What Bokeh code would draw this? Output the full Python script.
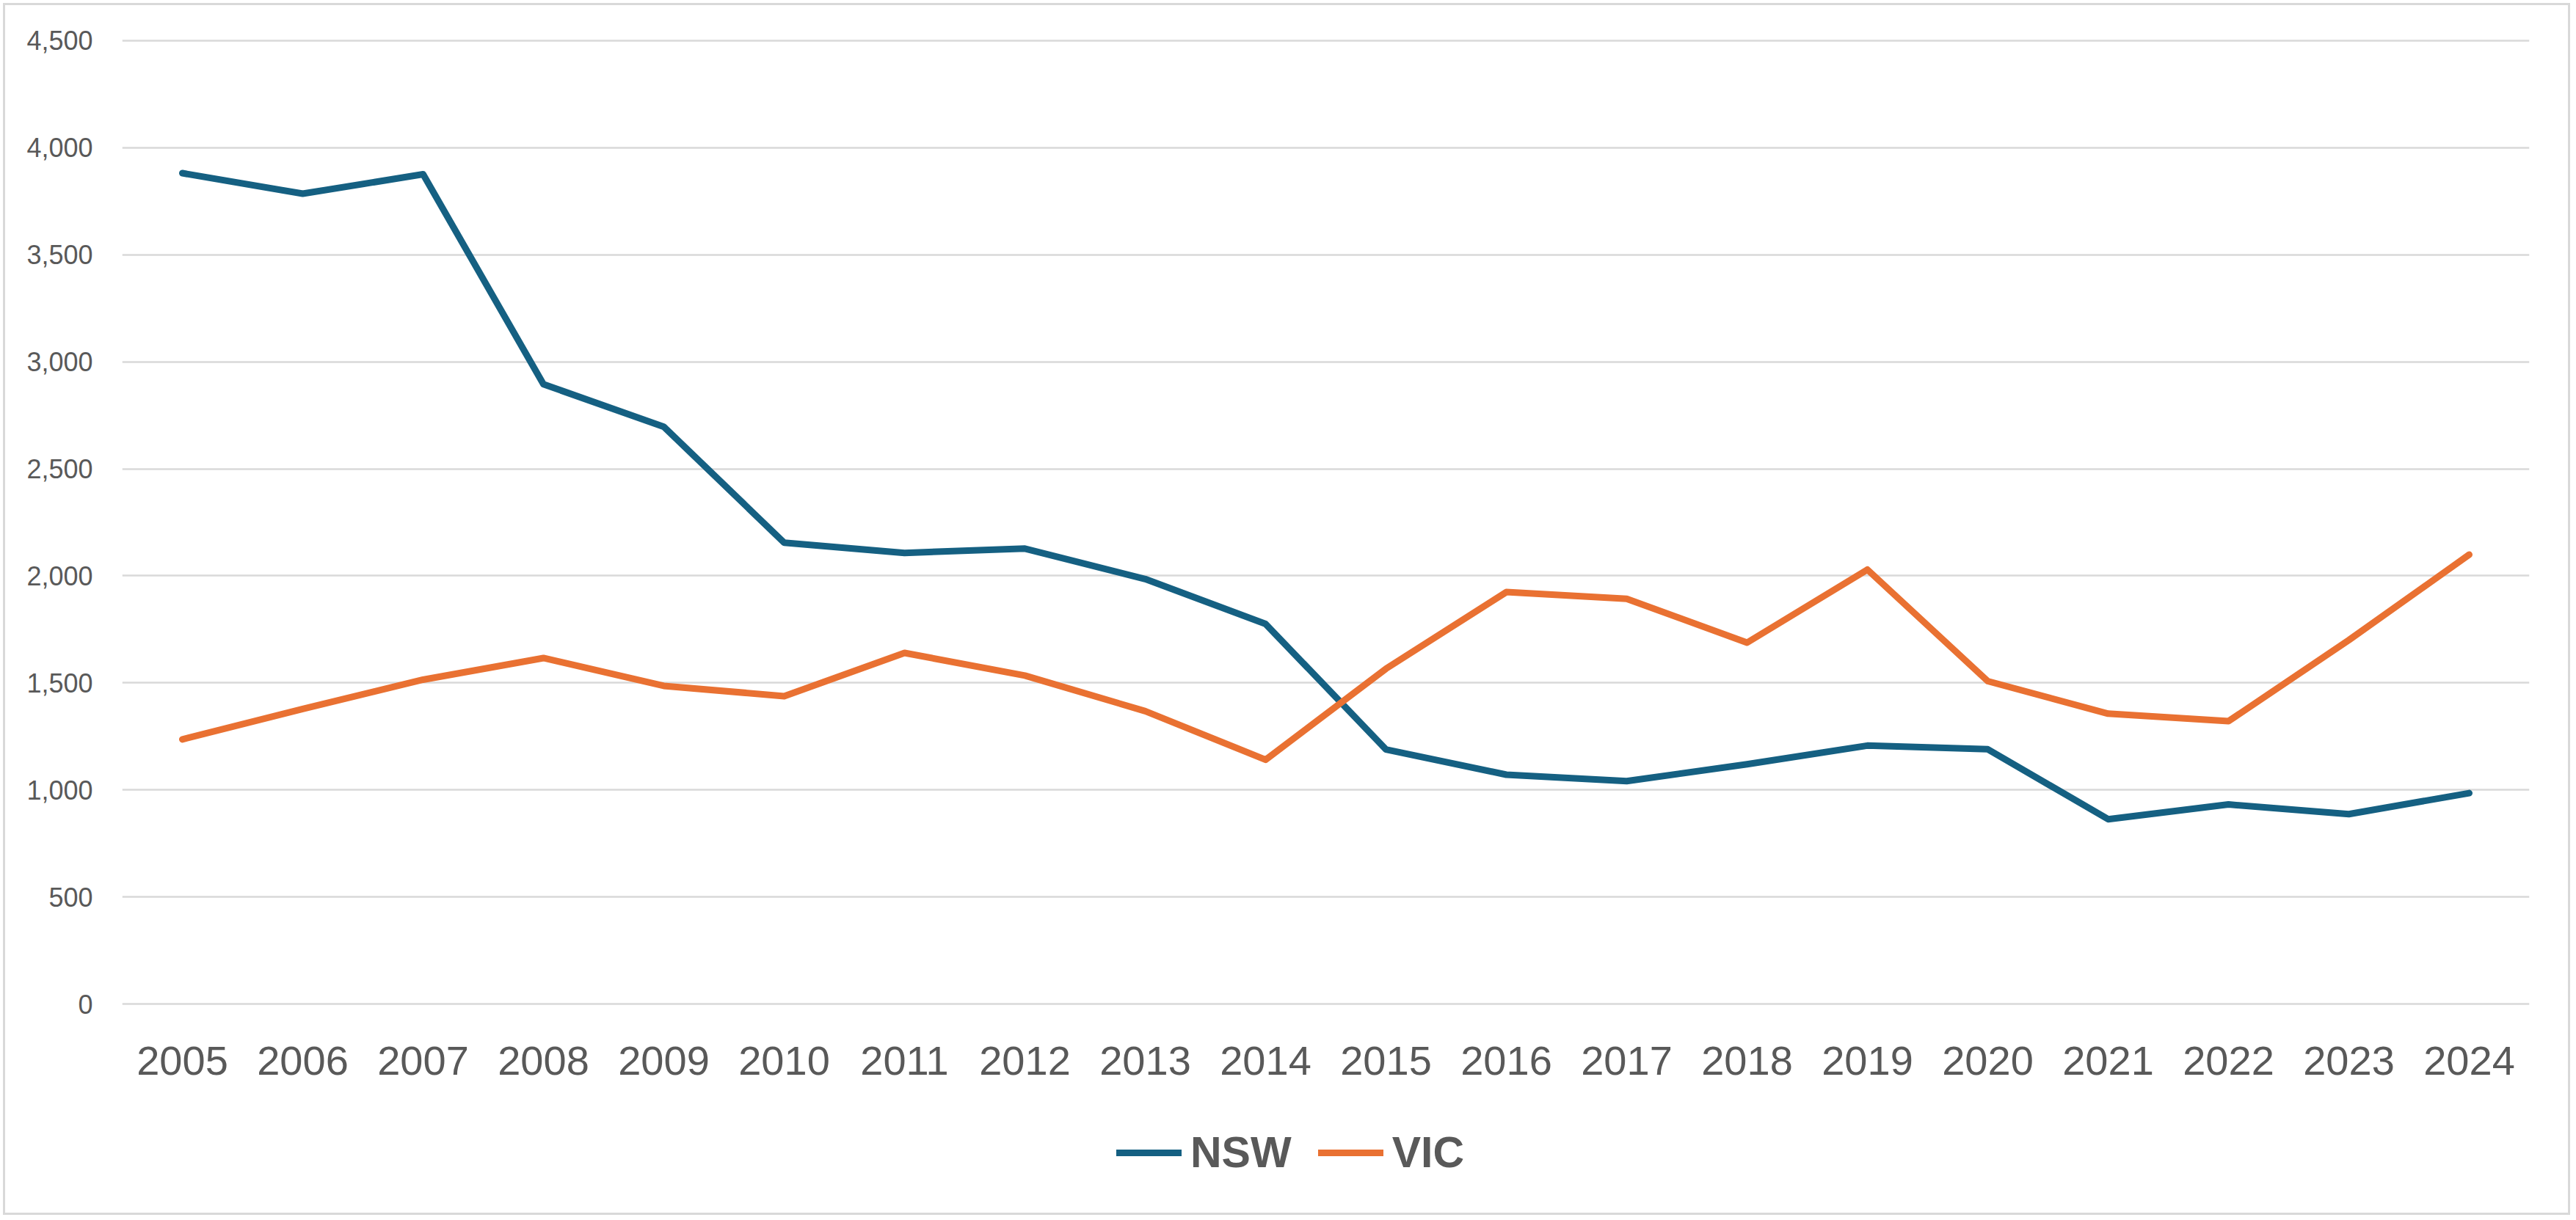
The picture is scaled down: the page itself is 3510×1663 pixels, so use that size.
from bokeh.plotting import figure
from bokeh.models import FactorRange, Range1d, FixedTicker, NumeralTickFormatter, Legend, LegendItem, ColumnDataSource
from bokeh.embed import file_html
from bokeh.resources import INLINE

years = ["2005", "2006", "2007", "2008", "2009", "2010", "2011", "2012", "2013", "2014",
         "2015", "2016", "2017", "2018", "2019", "2020", "2021", "2022", "2023", "2024"]
nsw = [3881, 3785, 3876, 2895, 2696, 2155, 2107, 2127, 1985, 1775,
       1189, 1071, 1041, 1120, 1207, 1190, 863, 932, 887, 985]
vic = [1236, 1378, 1515, 1616, 1486, 1438, 1640, 1534, 1368, 1141,
       1566, 1924, 1893, 1688, 2029, 1508, 1356, 1321, 1700, 2099]
y_ticks = [0, 500, 1000, 1500, 2000, 2500, 3000, 3500, 4000, 4500]
series_names = ["NSW", "VIC"]
series_colors = ["#156082", "#E97132"]

FONT = "Liberation Sans"
TEXT = "#595959"

src = ColumnDataSource(data=dict(year=years, nsw=nsw, vic=vic))

# the frame extends below zero so that the year labels and the legend sit inside it
p = figure(width=3506, height=1660, x_range=FactorRange(*years), y_range=Range1d(-932, 4510),
           output_backend="svg", toolbar_location=None,
           min_border_left=166, min_border_right=60, min_border_top=52, min_border_bottom=20)
p.outline_line_color = None
p.background_fill_alpha = 0
p.border_fill_alpha = 0
# light grey chart border (drawn by CSS behind the transparent canvas)
p.styles = {"background-color": "white",
            "box-shadow": "inset 0 0 0 4px white, inset 0 0 0 7px #D9D9D9",
            "outline": "3px solid #D9D9D9", "outline-offset": "-7px"}

p.xgrid.grid_line_color = None
p.ygrid.grid_line_color = "#D9D9D9"
p.ygrid.grid_line_width = 2.5

p.yaxis.ticker = FixedTicker(ticks=y_ticks)
p.yaxis.formatter = NumeralTickFormatter(format="0,0")
for ax in (p.xaxis, p.yaxis):
    ax.axis_line_color = None
    ax.major_tick_line_color = None
    ax.minor_tick_line_color = None
    ax.major_tick_in = 0
    ax.major_tick_out = 0
    ax.major_label_text_font = FONT
    ax.major_label_text_color = TEXT
p.yaxis.major_label_text_font_size = "36px"
p.yaxis.major_label_standoff = 40
p.xaxis.fixed_location = 0
p.xaxis.major_label_text_font_size = "56px"
p.xaxis.major_label_standoff = 58

r_nsw = p.line("year", "nsw", source=src, line_color=series_colors[0], line_width=9,
               line_cap="round", line_join="round")
r_vic = p.line("year", "vic", source=src, line_color=series_colors[1], line_width=9,
               line_cap="round", line_join="round")

legend = Legend(items=[LegendItem(label=series_names[0], renderers=[r_nsw]),
                       LegendItem(label=series_names[1], renderers=[r_vic])],
                location=(1355, 35), orientation="horizontal")
legend.label_text_font = FONT
legend.label_text_font_style = "bold"
legend.label_text_font_size = "59px"
legend.label_text_color = TEXT
legend.glyph_width = 89
legend.glyph_height = 60
legend.label_height = 60
legend.label_standoff = 12
legend.spacing = 36
legend.padding = 0
legend.margin = 0
legend.border_line_color = None
legend.background_fill_alpha = 0
p.add_layout(legend)

open("out.html", "w").write(file_html(p, INLINE))
